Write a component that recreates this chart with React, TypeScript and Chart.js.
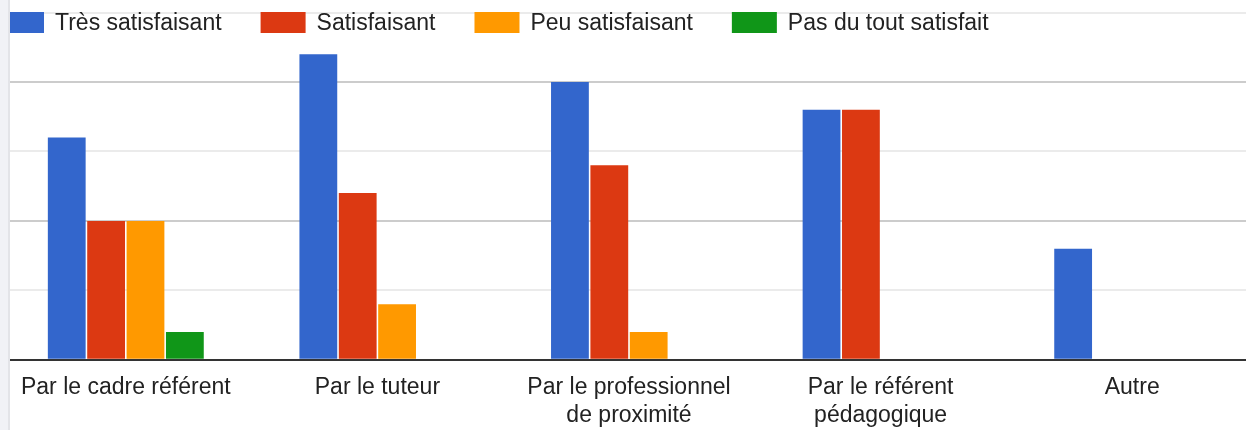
import React, { useEffect, useRef } from "react";
import { Chart, registerables } from "chart.js";

Chart.register(...registerables);

const categories: (string | string[])[] = [
  "Par le cadre référent",
  "Par le tuteur",
  ["Par le professionnel", "de proximité"],
  ["Par le référent", "pédagogique"],
  "Autre",
];
const seriesNames = ["Très satisfaisant", "Satisfaisant", "Peu satisfaisant", "Pas du tout satisfait"];
const tresSatisfaisant = [8, 11, 10, 9, 4];
const satisfaisant = [5, 6, 7, 9, 0];
const peuSatisfaisant = [5, 2, 1, 0, 0];
const pasDuTout = [1, 0, 0, 0, 0];
const colors = ["#3366cc", "#dc3912", "#ff9900", "#109618"];

const FONT = '"Liberation Sans", Arial, sans-serif';

const legendPlugin = {
  id: "customLegend",
  afterDraw(chart: any) {
    const ctx = chart.ctx;
    ctx.save();
    ctx.font = `23px ${FONT}`;
    ctx.textBaseline = "alphabetic";
    ctx.textAlign = "left";
    let x = -1;
    chart.data.datasets.forEach((ds: any) => {
      ctx.fillStyle = ds.backgroundColor;
      ctx.fillRect(x, 12, 45, 21);
      ctx.fillStyle = "#222222";
      const tx = x + 56;
      ctx.fillText(ds.label, tx, 30);
      x = tx + ctx.measureText(ds.label).width + 39;
    });
    ctx.restore();
  },
};

export default function App() {
  const ref = useRef<HTMLCanvasElement>(null);
  useEffect(() => {
    if (!ref.current) return;
    const series = [tresSatisfaisant, satisfaisant, peuSatisfaisant, pasDuTout];
    const chart = new Chart(ref.current, {
      type: "bar",
      data: {
        labels: categories,
        datasets: series.map((d, i) => ({
          label: seriesNames[i],
          data: d,
          backgroundColor: colors[i],
          borderWidth: 0,
          categoryPercentage: 0.626,
          barPercentage: 0.96,
        })),
      },
      options: {
        animation: false,
        responsive: false,
        devicePixelRatio: 1,
        layout: { padding: { top: 12.5, left: 0, right: 0, bottom: 0 } },
        plugins: { legend: { display: false }, tooltip: { enabled: false } },
        scales: {
          x: {
            grid: { display: false, drawTicks: false },
            border: { display: true, color: "#333333", width: 2 },
            ticks: {
              autoSkip: false,
              maxRotation: 0,
              minRotation: 0,
              padding: 14,
              color: "#222222",
              font: { family: FONT, size: 23, lineHeight: 1.2 },
            },
          },
          y: {
            min: 0,
            max: 12.5,
            border: { display: false },
            ticks: { display: false, stepSize: 2.5 },
            grid: {
              drawTicks: false,
              lineWidth: 2,
              color: (c: any) => {
                const v = c.tick ? c.tick.value : 0;
                if (v === 0) return "rgba(0,0,0,0)";
                return Math.abs(v % 5) < 1e-6 ? "#cccccc" : "#ebebeb";
              },
            },
          },
        },
      },
      plugins: [legendPlugin],
    });
    return () => chart.destroy();
  }, []);

  return (
    <div style={{ position: "fixed", left: 0, top: 0, width: 1246, height: 430, overflow: "hidden", background: "#fff" }}>
      <div style={{ position: "relative", width: 1258, height: 443 }}>
        <canvas ref={ref} width={1258} height={443} style={{ display: "block" }} />
      </div>
      <div
        style={{
          position: "absolute",
          left: 0,
          top: 0,
          width: 8,
          height: 430,
          background: "#f1f2f6",
          borderRight: "2px solid #e3e4e8",
        }}
      />
    </div>
  );
}
